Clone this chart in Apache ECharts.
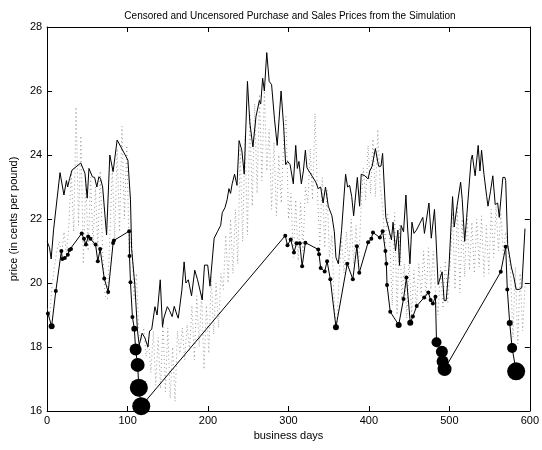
<!DOCTYPE html>
<html>
<head>
<meta charset="utf-8">
<script src="https://cdn.jsdelivr.net/npm/echarts@6/dist/echarts.min.js"></script>
<style>
  html, body { margin: 0; padding: 0; background: #fff; }
  #chart { width: 542px; height: 450px; }
</style>
</head>
<body>
<div id="chart"></div>
<script>
// 轴刻度
const xTicks = [0, 100, 200, 300, 400, 500, 600];
const yTicks = [16, 18, 20, 22, 24, 26, 28];

// 销售价格 (实线) [天, 价格]
const salesPrices = [
  [0, 21.3], [3, 21.1], [5, 20.75], [8, 21.66], [16, 23.45], [20.9, 22.75], [24, 23.2], [25.5, 23.0],
  [28, 23.27], [31, 23.53], [41.8, 23.75], [47, 23.43], [49.8, 22.65], [52, 23.58], [56.2, 23.32],
  [59, 23.3], [61.8, 23.0], [64.3, 23.32], [66.5, 23.25], [69, 23.0], [71, 22.38], [73.9, 21.5],
  [77.9, 24.0], [82, 23.48], [87, 24.47], [100.4, 23.84], [103.6, 22.6], [105, 21.08], [109, 19.94],
  [112.4, 18.48], [114.5, 18.06], [118, 18.43], [121.3, 18.3], [125.3, 18.0], [127.3, 18.5],
  [130, 18.55], [134, 19.26], [136.7, 19.0], [140.6, 20.1], [143.4, 18.63], [145, 18.9],
  [149.4, 19.26], [152, 19.15], [155.4, 18.95], [158, 19.27], [161.4, 19.0], [163, 18.9],
  [167.5, 19.78], [170.3, 20.66], [172.5, 20.0], [175.5, 20.1], [179.5, 19.6], [183.5, 20.4],
  [187, 20.1], [192.8, 19.47], [195.6, 20.56], [199.6, 20.56], [202.4, 19.9], [207.6, 21.4],
  [211.6, 21.6], [215.7, 21.8], [217.7, 22.2], [221, 22.35], [223.7, 22.6], [226, 22.95],
  [228, 22.8], [230, 23.1], [233, 23.4], [236, 23.05], [238.6, 24.45], [242, 24.15], [245, 23.4],
  [249, 26.3], [252, 25.0], [255.8, 24.25], [259.6, 25.2], [263.8, 25.7], [265.5, 25.6],
  [267.9, 26.4], [270, 26.0], [273, 27.2], [276, 26.3], [279, 26.2], [282.7, 25.1], [286, 24.3],
  [290.8, 26.0], [294, 24.9], [296.5, 23.7], [299, 23.8], [302, 23.7], [306, 23.1], [309, 24.3],
  [311, 23.58], [313, 23.8], [316, 23.1], [318.5, 23.5], [321, 24.15], [323, 23.6], [334, 23.15],
  [337, 22.95], [340, 23.0], [343, 22.5], [346, 23.0], [349.5, 22.4], [354, 22.1], [357, 21.6],
  [359, 20.8], [362, 20.6], [366, 21.65], [371, 23.4], [373.5, 23.0], [376, 23.05], [378.6, 22.7],
  [381, 22.1], [385.6, 23.3], [388.4, 22.4], [390.4, 23.4], [395, 23.35], [399, 23.25],
  [401, 23.5], [404, 23.65], [408, 24.2], [412, 23.65], [415, 23.65], [417, 24.05], [421, 22.05],
  [424, 21.75], [428, 21.35], [430, 21.9], [433, 21.0], [436, 21.65], [438, 20.55], [440, 21.8],
  [443, 21.6], [446, 22.75], [448, 21.75], [451, 20.6], [453.5, 21.9], [456, 21.55], [459, 21.65],
  [463, 21.85], [467, 22.05], [469, 21.55], [474.6, 22.5], [477.5, 21.4], [481.5, 22.3],
  [483.5, 21.35], [486, 19.95], [491, 20.35], [493.5, 19.45], [496, 19.45], [499.5, 20.5],
  [502, 21.75], [504, 22.7], [506, 21.75], [509.5, 22.4], [514, 23.15], [516, 22.6], [519, 21.3],
  [521.5, 22.05], [527, 23.85], [528.5, 24.0], [532, 23.35], [534, 23.35], [535.8, 24.3],
  [538, 23.5], [540, 24.15], [543, 23.4], [546.4, 22.7], [548, 22.4], [551, 22.85], [554, 23.35],
  [557, 22.45], [560, 22.5], [562, 22.05], [566.5, 23.3], [569, 23.3], [570, 23.2], [572.5, 21.2],
  [577, 20.5], [580, 20.2], [583, 19.8], [587, 19.8], [590, 19.85], [594, 21.7]
];

// 未删失价格 (点线)，每 3 天一个值
const uncensoredDays = [];
for (let d = 0; d <= 594; d += 3) uncensoredDays.push(d);
const uncensoredPrices = [
  19.2, 18.9, 19.9, 20.5, 21.0, 21.3, 20.9, 21.6, 20.9, 21.8,
  23.5, 21.6, 25.5, 21.8, 24.6, 20.6, 23.3, 21.0, 23.3, 21.2,
  23.0, 21.1, 23.5, 21.0, 19.6, 19.5, 21.5, 23.6, 21.4, 24.2,
  21.6, 24.9, 22.0, 24.3, 21.0, 21.5, 19.5, 20.3, 18.5, 18.2,
  18.6, 17.7, 18.2, 17.2, 18.5, 16.8, 18.3, 16.7, 18.8, 16.6,
  18.6, 16.4, 18.0, 16.3, 18.5, 17.8, 18.6, 17.6, 18.7, 17.9,
  19.3, 17.6, 19.6, 18.0, 19.7, 17.3, 19.3, 17.8, 20.2, 18.4,
  20.0, 18.6, 20.3, 19.8, 21.5, 20.0, 22.0, 20.3, 22.3, 20.6,
  24.2, 21.3, 24.6, 21.5, 25.3, 22.4, 25.6, 22.8, 25.9, 23.2,
  26.0, 23.5, 24.8, 22.3, 24.4, 22.1, 24.0, 22.5, 24.4, 25.2,
  22.0, 22.8, 20.8, 22.6, 20.7, 22.5, 21.0, 23.0, 22.5, 24.2,
  22.6, 25.3, 22.8, 21.2, 23.3, 21.1, 22.9, 20.8, 21.5, 19.2,
  18.6, 20.2, 21.4, 20.3, 21.6, 20.5, 22.0, 20.6, 21.8, 20.5,
  22.2, 23.6, 22.6, 24.3, 22.8, 24.5, 22.7, 24.8, 23.0, 22.4,
  21.2, 22.2, 21.3, 19.3, 22.2, 19.0, 21.8, 19.5, 20.6, 18.9,
  20.7, 19.0, 20.4, 19.2, 20.6, 19.6, 21.0, 19.5, 21.1, 19.8,
  21.0, 19.6, 19.0, 20.5, 19.2, 20.7, 19.4, 20.5, 22.2, 19.8,
  22.4, 19.7, 22.0, 20.2, 22.1, 20.4, 21.9, 20.3, 22.0, 20.5,
  22.1, 20.2, 21.8, 20.3, 22.3, 20.8, 22.4, 21.0, 22.2, 20.9,
  21.6, 21.0, 20.4, 18.3, 20.5, 18.1, 20.3, 18.5, 19.9
];

// 删失的收购价格 (带点的线) [天, 价格, 删失程度]
const purchaseDays = [
  1, 5.6, 10.8, 17.7, 18.9, 22, 25.7, 27.7, 29.7, 43, 45.8, 48.2, 51, 53.8, 60.2, 63, 65.9, 71,
  75.9, 82, 83, 102, 102.4, 103.6, 106, 108.4, 110, 112.5, 114, 117,
  296, 298.8, 302.8, 306.8, 310, 314, 317, 321, 337, 338, 340, 345, 348, 352, 359, 373, 380,
  385, 388, 399, 403, 405, 413.6, 417, 420.5, 421.7, 422.5, 426.5, 437, 443, 446.6, 451.4,
  454.6, 459.4, 468.7, 473.9, 476.7, 479.5, 482.7, 484, 490.7, 491.6, 494,
  563.9, 570, 572, 575, 578, 583
];
const purchasePrices = [
  19.05, 18.65, 19.75, 21.0, 20.75, 20.78, 20.88, 21.03, 21.06, 21.55, 21.38, 21.2, 21.45, 21.38,
  21.2, 20.68, 21.06, 20.14, 19.72, 21.25, 21.33, 21.62, 20.84, 20.02, 18.94, 18.57, 17.92,
  17.44, 16.73, 16.15,
  21.48, 21.18, 21.36, 20.95, 21.24, 21.24, 20.52, 21.26, 21.05, 20.9, 20.47, 20.36, 20.68,
  20.12, 18.62, 20.6, 20.12, 21.15, 20.32, 21.27, 21.38, 21.58, 21.42, 21.62, 21.0, 20.6,
  19.94, 19.1, 18.69, 19.5, 20.17, 18.76, 18.95, 19.28, 19.55, 19.7, 19.47, 19.36, 19.57,
  18.15, 17.85, 17.55, 17.31,
  20.35, 21.13, 19.8, 18.75, 17.97, 17.24
];
const censorLevel = [
  0, 1, 0, 0, 0, 0, 0, 0, 0, 0, 0, 0, 0, 0, 0, 0, 0, 0, 0, 0, 0, 0, 0, 0, 0, 1, 4, 5, 7, 7,
  0, 0, 0, 0, 0, 0, 0, 0, 0, 0, 0, 0, 0, 0, 1, 0, 0, 0, 0, 0, 0, 0, 0, 0, 0, 0, 0, 0, 1, 0,
  0, 1, 0, 0, 0, 0, 0, 0, 0, 3, 4, 4, 5,
  0, 0, 0, 1, 3, 7
];

const chart = echarts.init(document.getElementById("chart"), null, { renderer: "canvas" });

const font = "Liberation Sans, Arial, Helvetica, sans-serif";
const tickStyle = { inside: true, length: 5, lineStyle: { color: "#000", width: 1 } };
const labelStyle = { color: "#000", fontSize: 11, fontFamily: font };

const option = {
  animation: false,
  backgroundColor: "#fff",
  title: {
    text: "Censored and Uncensored Purchase and Sales Prices from the Simulation",
    left: 285,
    top: 6,
    textAlign: "center",
    textStyle: { fontSize: 10, fontWeight: "normal", color: "#000", fontFamily: font }
  },
  grid: { left: 36, right: 8, top: 27, bottom: 39 },
  xAxis: [
    {
      type: "value", min: 0, max: 600, interval: 100,
      name: "business days", nameLocation: "middle", nameGap: 19,
      nameTextStyle: { color: "#000", fontSize: 11, fontFamily: font },
      axisLine: { onZero: false, lineStyle: { color: "#000", width: 1 } },
      axisTick: tickStyle,
      axisLabel: Object.assign({ margin: 4 }, labelStyle),
      splitLine: { show: false }
    },
    {
      type: "value", min: 0, max: 600, interval: 100, position: "top",
      axisLine: { onZero: false, lineStyle: { color: "#000", width: 1 } },
      axisTick: tickStyle, axisLabel: { show: false }, splitLine: { show: false }
    }
  ],
  yAxis: [
    {
      type: "value", min: 16, max: 28, interval: 2,
      name: "price (in cents per pound)", nameLocation: "middle", nameGap: 22,
      nameTextStyle: { color: "#000", fontSize: 11, fontFamily: font },
      axisLine: { onZero: false, lineStyle: { color: "#000", width: 1 } },
      axisTick: tickStyle,
      axisLabel: Object.assign({ margin: 5 }, labelStyle),
      splitLine: { show: false }
    },
    {
      type: "value", min: 16, max: 28, interval: 2, position: "right",
      axisLine: { onZero: false, lineStyle: { color: "#000", width: 1 } },
      axisTick: tickStyle, axisLabel: { show: false }, splitLine: { show: false }
    }
  ],
  series: [
    {
      name: "uncensored",
      type: "line",
      data: uncensoredDays.map((d, i) => [d, uncensoredPrices[i]]),
      showSymbol: false,
      lineStyle: { color: "#9a9a9a", width: 1, type: [1, 3] },
      z: 1
    },
    {
      name: "sales",
      type: "line",
      data: salesPrices,
      showSymbol: false,
      lineStyle: { color: "#000", width: 1 },
      z: 2
    },
    {
      name: "purchase",
      type: "line",
      data: purchaseDays.map((d, i) => [d, purchasePrices[i], censorLevel[i]]),
      symbol: "circle",
      symbolSize: (v) => 4 + 2 * v[2],
      itemStyle: { color: "#000" },
      lineStyle: { color: "#000", width: 1 },
      z: 3
    }
  ]
};

chart.setOption(option);
</script>
</body>
</html>
